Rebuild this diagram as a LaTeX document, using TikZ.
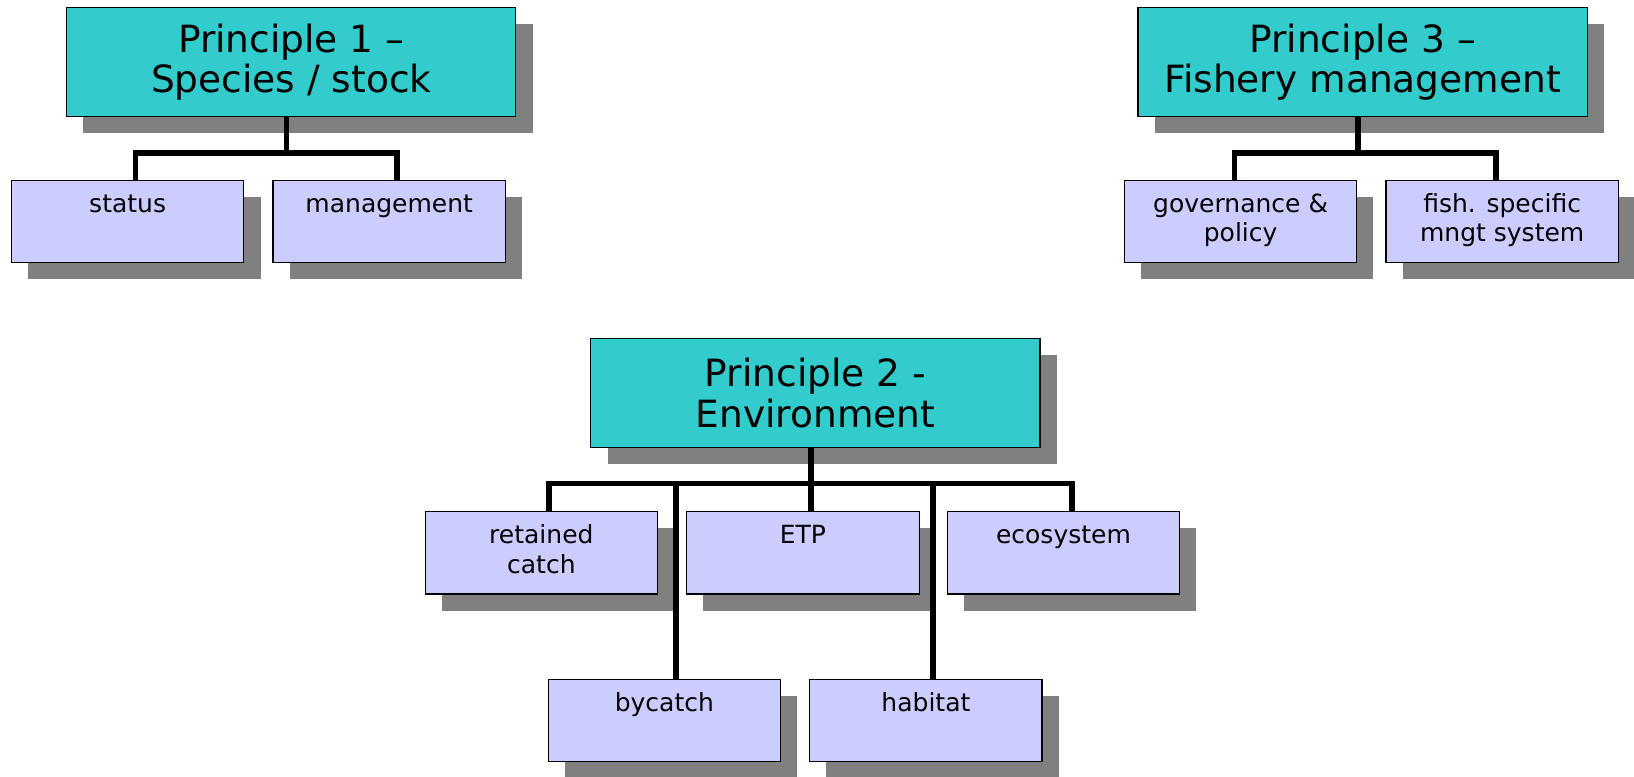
\documentclass[tikz,border=0pt]{standalone}
\usepackage{fontspec}
\setmainfont{DejaVu Sans}
\usepackage{xcolor}
\usepackage{tikz}
\usetikzlibrary{shadows}
\usetikzlibrary{shapes,calc,backgrounds}

\definecolor{headteal}{RGB}{51,204,204}
\definecolor{sublilac}{RGB}{204,204,255}
\definecolor{shadowgray}{RGB}{128,128,128}

\begin{document}
\begin{tikzpicture}[x=1pt,y=-1pt,
    boxshadow/.style={drop shadow={shadow xshift=16pt,shadow yshift=-16pt,fill=shadowgray,opacity=1}},
    headbox/.style={draw=black,line width=1.2pt,fill=headteal,boxshadow,minimum width=431pt,minimum height=105pt,
      align=center,inner sep=0pt,font=\fontsize{36}{39}\selectfont},
    subbox/.style={draw=black,line width=1.2pt,fill=sublilac,boxshadow,inner sep=0pt,font=\fontsize{24}{28}\selectfont},
    conn/.style={line width=5.5pt,black}]
        \def\subtxt#1{\parbox[c][79pt][t]{223pt}{\centering\rule{0pt}{31pt}#1}}
        \useasboundingbox (0,0) rectangle (1568,745);
        % principle 1
        \node[headbox] (p1) at (279.5,59.5) {Principle 1 --\\Species / stock};
        \node[subbox] (status) at (122.5,212.5) {\subtxt{status}};
        \node[subbox] (mgmt) at (373.5,212.5) {\subtxt{management}};
        % principle 3
        \node[headbox] (p3) at (1307.5,59.5) {Principle 3 --\\Fishery management};
        \node[subbox] (govern) at (1190.5,212.5) {\subtxt{governance \&\\policy}};
        \node[subbox] (fishmngt) at (1441.5,212.5) {\subtxt{fish. specific\\mngt system}};
        % principle 2
        \node[headbox] (p2) at (782.5,377) {Principle 2 -\\Environment};
        \node[subbox] (retained) at (519.5,530.5) {\subtxt{retained\\catch}};
        \node[subbox] (etp) at (770.5,530.5) {\subtxt{ETP}};
        \node[subbox] (eco) at (1020.5,530.5) {\subtxt{ecosystem}};
        \node[subbox] (bycatch) at (637.5,691.5) {\subtxt{bycatch}};
        \node[subbox] (habitat) at (888.5,691.5) {\subtxt{habitat}};
        % connectors
        \coordinate (p1bar) at (275,147);
        \coordinate (p3bar) at (1303,147);
        \coordinate (p2bar) at (778,464);
        \draw[conn] ([xshift=-4.5pt]p1.south) -- (p1bar);
        \draw[conn] ([xshift=7.5pt]status.north) |- (p1bar) -| ([xshift=7.5pt]mgmt.north);
        \draw[conn] ([xshift=-4.5pt]p3.south) -- (p3bar);
        \draw[conn] ([xshift=-6pt]govern.north) |- (p3bar) -| ([xshift=-6pt]fishmngt.north);
        \draw[conn] ([xshift=-4.5pt]p2.south) -- (p2bar);
        \draw[conn] ([xshift=7.5pt]retained.north) |- (p2bar) -| ([xshift=8.5pt]eco.north);
        \draw[conn] (p2bar) -- ([xshift=7.5pt]etp.north);
        \coordinate (bytop) at ([xshift=11.5pt]bycatch.north);
        \coordinate (habtop) at ([xshift=6.5pt]habitat.north);
        \draw[conn] (bytop) -- (bytop |- p2bar);
        \draw[conn] (habtop) -- (habtop |- p2bar);
\end{tikzpicture}
\end{document}
